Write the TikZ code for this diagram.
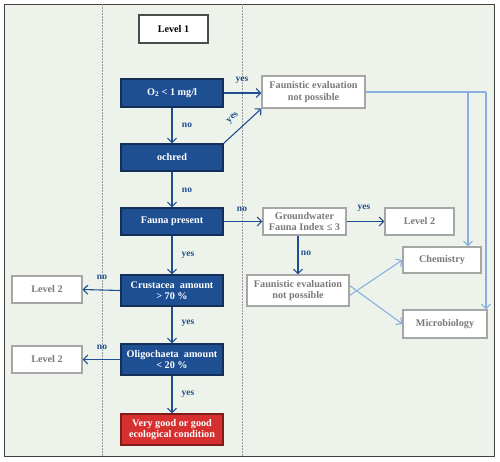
\documentclass[tikz,border=0pt]{standalone}
\usepackage{fontspec}
\setmainfont{Liberation Serif}
\usetikzlibrary{arrows.meta}
\definecolor{bgc}{HTML}{EDF3EB}
\definecolor{dblue}{HTML}{1F4F93}
\definecolor{dred}{HTML}{D52F2F}
\definecolor{lblue}{HTML}{8AB0E0}
\definecolor{gtext}{HTML}{7A7A7A}
\begin{document}
\begin{tikzpicture}[x=1pt,y=-1pt,
  base/.style={draw, line width=1.1pt, align=center, inner sep=1pt, font=\fontsize{10.2}{11.5}\selectfont\bfseries},
  dbox/.style={base, fill=dblue, draw=dblue!60!black, text=white, minimum width=102pt},
  rbox/.style={base, fill=dred, draw=dred!60!black, text=white, minimum width=102pt},
  wbox/.style={base, fill=white, draw=gray!70, text=gtext},
  arr/.style={draw=dblue, line width=1.1pt, -{Straight Barb[length=4.5pt,width=9pt]}},
  larr/.style={draw=lblue, line width=1.1pt, -{Straight Barb[length=4.5pt,width=9pt]}},
  lab/.style={text=dblue, font=\fontsize{9.5}{10}\selectfont\bfseries, inner sep=0pt},
  sep/.style={draw=gray!80, line width=1pt, dash pattern=on 1.5pt off 1.5pt}
]
\useasboundingbox (0,0) rectangle (500,461);
\fill[bgc] (4,4) rectangle (494,456);
\draw[gray!50!black, line width=1pt] (4,4) rectangle (494,456);
\draw[sep] (102,4) -- (102,456);
\draw[sep] (242,4) -- (242,456);

\node[wbox, text=black, draw=gray!60!black, minimum width=69pt, minimum height=28pt] (lv1) at (173.5,29) {Level 1};

\node[dbox, minimum height=28pt] (o2) at (172,93) {O\textsubscript{2} < 1 mg/l};
\node[dbox, minimum height=27pt] (och) at (172,157.5) {ochred};
\node[dbox, minimum height=27pt] (fau) at (172,221.5) {Fauna present};
\node[dbox, minimum height=31pt] (cru) at (172,290.5) {Crustacea\ \ amount\\> 70 \%};
\node[dbox, minimum height=31pt] (oli) at (172,359.5) {Oligochaeta\ \ amount\\< 20 \%};
\node[rbox, minimum height=31pt] (good) at (172,429.5) {Very good or good\\ecological condition};

\node[wbox, minimum width=70pt, minimum height=27pt] (l2a) at (47,289.5) {Level 2};
\node[wbox, minimum width=70pt, minimum height=27pt] (l2b) at (47,359.5) {Level 2};

\node[wbox, minimum width=103pt, minimum height=32pt] (fet) at (313.5,92) {Faunistic evaluation\\not possible};
\node[wbox, minimum width=83pt, minimum height=27pt] (gw) at (304.5,221.5) {Groundwater\\Fauna Index ≤ 3};
\node[wbox, minimum width=69pt, minimum height=27pt] (l2r) at (419.5,221.5) {Level 2};
\node[wbox, minimum width=78pt, minimum height=26pt] (chem) at (442,260) {Chemistry};
\node[wbox, minimum width=102pt, minimum height=31pt] (fel) at (298,290.5) {Faunistic evaluation\\not possible};
\node[wbox, minimum width=84pt, minimum height=28pt] (mic) at (445,324) {Microbiology};

% central arrows
\draw[arr] (o2) -- (och);
\draw[arr] (och) -- (fau);
\draw[arr] (fau) -- (cru);
\draw[arr] (cru) -- (oli);
\draw[arr] (oli) -- (good);
\node[lab] at (187,125) {no};
\node[lab] at (187,190) {no};
\node[lab] at (188,255) {yes};
\node[lab] at (188,323) {yes};
\node[lab] at (188,394) {yes};

% left arrows
\draw[arr] (cru.west) -- (l2a.east);
\draw[arr] (oli.west) -- (l2b.east);
\node[lab] at (102,277) {no};
\node[lab] at (102,347) {no};

% right arrows
\draw[arr] (o2.east) -- (o2.east -| fet.west);
\node[lab] at (242,80) {yes};
\draw[arr] (och.north east) -- (fet.south west);
\node[lab, rotate=43] at (233,118) {yes};
\draw[arr] (fau.east) -- (gw.west);
\node[lab] at (242,209) {no};
\draw[arr] (gw.east) -- (l2r.west);
\node[lab] at (364,208) {yes};
\draw[arr] (gw.south -| fel.north) -- (fel.north);
\node[lab] at (306,253) {no};

% light blue
\coordinate (c1) at (468,92);
\coordinate (c2) at (486,92);
\draw[lblue, line width=1.1pt] (fet.east |- c1) -- (c2);
\draw[larr] (c1) -- (c1 |- chem.north);
\draw[larr] (c2) -- (c2 |- mic.north);
\draw[larr] ([yshift=-5pt]fel.east) -- (chem.west);
\draw[larr] ([yshift=5pt]fel.east) -- (mic.west);
\end{tikzpicture}
\end{document}
